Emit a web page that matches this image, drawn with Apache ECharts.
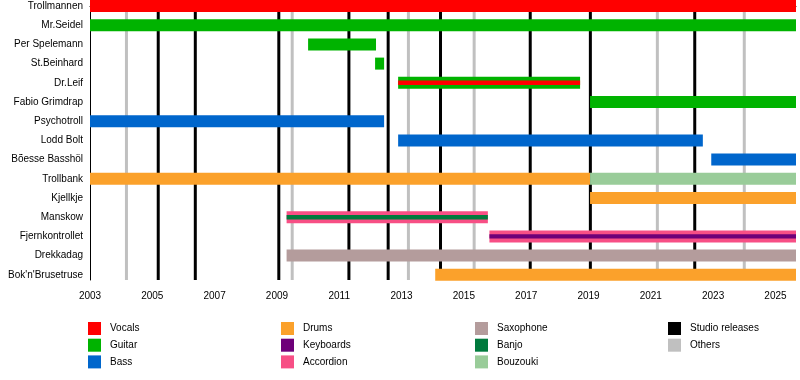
<!DOCTYPE html>
<html>
<head>
<meta charset="utf-8">
<script src="https://cdn.jsdelivr.net/npm/echarts@6/dist/echarts.min.js"></script>
<style>html,body{margin:0;padding:0;background:#fff;}#chart{width:800px;height:380px;}</style>
</head>
<body>
<div id="chart"></div>
<script>
const END = 2025.66;
const members = ['Trollmannen', 'Mr.Seidel', 'Per Spelemann', 'St.Beinhard', 'Dr.Leif', 'Fabio Grimdrap', 'Psychotroll', 'Lodd Bolt', 'Bõesse Basshöl', 'Trollbank', 'Kjellkje', 'Manskow', 'Fjernkontrollet', 'Drekkadag', "Bok'n'Brusetruse"];
const tickYears = [2003, 2004, 2005, 2006, 2007, 2008, 2009, 2010, 2011, 2012, 2013, 2014, 2015, 2016, 2017, 2018, 2019, 2020, 2021, 2022, 2023, 2024, 2025];
const labelYears = [2003, 2005, 2007, 2009, 2011, 2013, 2015, 2017, 2019, 2021, 2023, 2025];

// [member index, start year, end year]
const vocals = [[0, 2003, END]];
const vocalsStripe = [[4, 2012.89, 2018.73]];
const guitar = [[1, 2003, END], [2, 2010.0, 2012.18], [3, 2012.15, 2012.44], [4, 2012.89, 2018.73], [5, 2019.05, END]];
const bass = [[6, 2003, 2012.44], [7, 2012.89, 2022.67], [8, 2022.94, END]];
const drums = [[9, 2003, 2019.05], [10, 2019.05, END], [14, 2014.08, END]];
const keyboardsStripe = [[12, 2015.82, END]];
const accordion = [[11, 2009.31, 2015.77], [12, 2015.82, END]];
const saxophone = [[13, 2009.31, END]];
const banjoStripe = [[11, 2009.31, 2015.77]];
const bouzouki = [[9, 2019.05, END]];
const studioReleases = [2005.19, 2006.38, 2009.06, 2011.31, 2012.57, 2014.25, 2017.13, 2019.06, 2022.41];
const otherReleases = [2004.17, 2009.49, 2013.22, 2015.33, 2021.21, 2024.0];

const colors = {
  Vocals: '#FF0000', Guitar: '#00B300', Bass: '#0066CC', Drums: '#FBA12B',
  Keyboards: '#6E0079', Accordion: '#F74F85', Saxophone: '#B49C9C', Banjo: '#007A3D',
  Bouzouki: '#99CC99', 'Studio releases': '#000000', Others: '#C0C0C0'
};
const FONT = '"Liberation Sans", Arial, sans-serif';

function barRender(h) {
  return function (params, api) {
    const row = api.value(0);
    const p0 = api.coord([api.value(1), row]);
    const p1 = api.coord([api.value(2), row]);
    return {
      type: 'rect',
      shape: { x: p0[0], y: p0[1] - h / 2, width: p1[0] - p0[0], height: h },
      style: { fill: api.visual('color') }
    };
  };
}
function lineRender(params, api) {
  const x = api.coord([api.value(0), 0])[0];
  const cs = params.coordSys;
  return {
    type: 'rect',
    shape: { x: x - 1.5, y: cs.y, width: 3, height: cs.height },
    style: { fill: api.visual('color') }
  };
}
function barSeries(name, data, h, z) {
  return {
    name: name, type: 'custom', data: data, z: z,
    renderItem: barRender(h),
    encode: { x: [1, 2], y: 0 },
    itemStyle: { color: colors[name] },
    silent: true
  };
}
function lineSeries(name, data) {
  return {
    name: name, type: 'custom', data: data.map(v => [v, 0]), z: 1,
    renderItem: lineRender,
    encode: { x: 0, y: 1 },
    itemStyle: { color: colors[name] },
    silent: true
  };
}

const legendBase = {
  orient: 'vertical', icon: 'rect', itemWidth: 13, itemHeight: 13, itemGap: 3.7,
  padding: 0, selectedMode: false,
  textStyle: { fontSize: 10, color: '#000', fontFamily: FONT, padding: [0, 0, 0, 4] }
};

const chart = echarts.init(document.getElementById('chart'), null, { renderer: 'canvas' });
chart.setOption({
  animation: false,
  backgroundColor: '#fff',
  grid: { left: 90, top: 0, width: 706, height: 280, containLabel: false },
  xAxis: {
    type: 'value', min: 2003, max: END,
    axisLine: { show: true, lineStyle: { color: '#000', width: 1 } },
    axisTick: { show: true, customValues: tickYears, length: 5, lineStyle: { color: '#000', width: 1 } },
    axisLabel: { customValues: labelYears, formatter: v => String(Math.round(v)), fontSize: 10, color: '#000', fontFamily: FONT, margin: 11 },
    splitLine: { show: false }
  },
  yAxis: {
    type: 'value', inverse: true, min: -0.3125, max: 14.2708,
    axisLine: { show: true, lineStyle: { color: '#000', width: 1 } },
    axisTick: { show: false },
    axisLabel: {
      customValues: members.map((m, i) => i),
      formatter: v => members[Math.round(v)],
      fontSize: 10, color: '#000', fontFamily: FONT, margin: 7
    },
    splitLine: { show: false }
  },
  legend: [
    Object.assign({}, legendBase, { left: 88, top: 322, data: ['Vocals', 'Guitar', 'Bass'] }),
    Object.assign({}, legendBase, { left: 281, top: 322, data: ['Drums', 'Keyboards', 'Accordion'] }),
    Object.assign({}, legendBase, { left: 475, top: 322, data: ['Saxophone', 'Banjo', 'Bouzouki'] }),
    Object.assign({}, legendBase, { left: 668, top: 322, data: ['Studio releases', 'Others'] })
  ],
  series: [
    lineSeries('Others', otherReleases),
    lineSeries('Studio releases', studioReleases),
    barSeries('Vocals', vocals, 12, 2),
    barSeries('Guitar', guitar, 12, 2),
    barSeries('Bass', bass, 12, 2),
    barSeries('Drums', drums, 12, 2),
    barSeries('Accordion', accordion, 12, 2),
    barSeries('Saxophone', saxophone, 12, 2),
    barSeries('Bouzouki', bouzouki, 12, 2),
    barSeries('Vocals', vocalsStripe, 4.4, 3),
    barSeries('Keyboards', keyboardsStripe, 4.4, 3),
    barSeries('Banjo', banjoStripe, 4.4, 3)
  ]
});
</script>
</body>
</html>
